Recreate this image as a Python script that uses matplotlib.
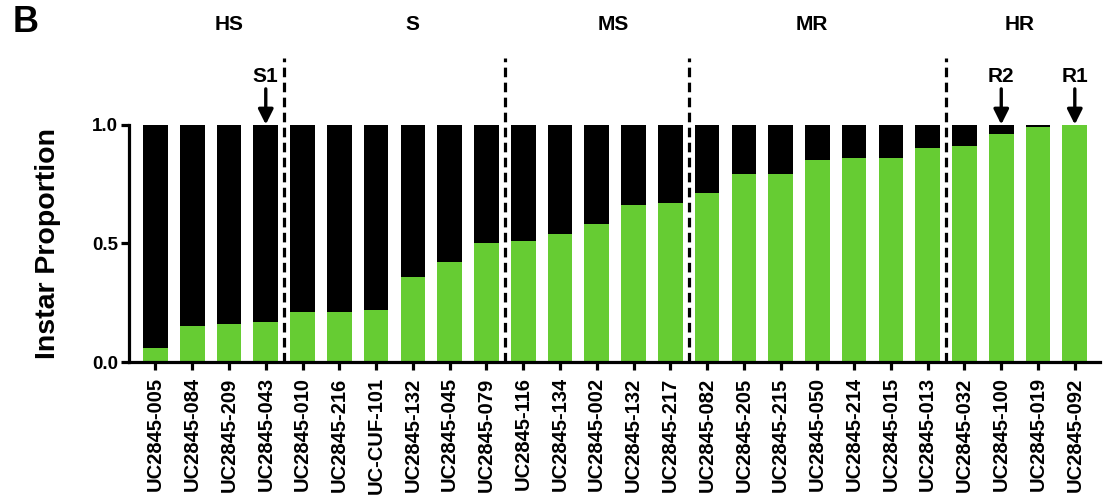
import matplotlib
matplotlib.use('Agg')
import matplotlib.pyplot as plt
import numpy as np

plt.rcParams['font.family'] = ['Liberation Sans', 'DejaVu Sans']
plt.rcParams['font.weight'] = 'bold'

# isolates ordered by proportion of the later instar
isolates = ['UC2845-005', 'UC2845-084', 'UC2845-209', 'UC2845-043',
            'UC2845-010', 'UC2845-216', 'UC-CUF-101', 'UC2845-132', 'UC2845-045', 'UC2845-079',
            'UC2845-116', 'UC2845-134', 'UC2845-002', 'UC2845-132', 'UC2845-217',
            'UC2845-082', 'UC2845-205', 'UC2845-215', 'UC2845-050', 'UC2845-214', 'UC2845-015', 'UC2845-013',
            'UC2845-032', 'UC2845-100', 'UC2845-019', 'UC2845-092']
green_prop = [0.06, 0.15, 0.16, 0.17,
              0.21, 0.21, 0.22, 0.36, 0.42, 0.50,
              0.51, 0.54, 0.58, 0.66, 0.67,
              0.71, 0.79, 0.79, 0.85, 0.86, 0.86, 0.90,
              0.91, 0.96, 0.99, 1.00]
black_prop = [1 - g for g in green_prop]

groups = ['HS', 'S', 'MS', 'MR', 'HR']
group_sizes = [4, 6, 5, 7, 4]
group_label_x = [2.0, 7.0, 12.45, 17.85, 23.5]

marked = {3: 'S1', 23: 'R2', 25: 'R1'}

fig = plt.figure(figsize=(11.07, 4.99), dpi=100)
ax = fig.add_axes([0.1165, 0.2745, 0.877, 0.476])

x = np.arange(len(isolates))
ax.bar(x, green_prop, width=0.67, color='#66cc33', edgecolor='none')
ax.bar(x, black_prop, width=0.67, bottom=green_prop, color='black', edgecolor='none')

ax.set_xlim(-0.72, len(isolates) - 1 + 0.68)
ax.set_ylim(0, 1.0)
ax.set_yticks([0.0, 0.5, 1.0])
ax.set_yticklabels(['0.0', '0.5', '1.0'], fontsize=13.5, fontweight='bold')
ax.set_xticks(x)
ax.set_xticklabels(isolates, rotation=90, fontsize=14.5, fontweight='bold')
ax.set_ylabel('Instar Proportion', fontsize=20.5, fontweight='bold', labelpad=22)

for side in ['top', 'right']:
    ax.spines[side].set_visible(False)
for side in ['left', 'bottom']:
    ax.spines[side].set_linewidth(2.3)
ax.tick_params(axis='both', width=2.3, length=6)
ax.tick_params(axis='x', pad=5)
ax.tick_params(axis='y', pad=2)

# dashed separators between resistance classes
bounds = np.cumsum(group_sizes)[:-1] - 0.5
for b in bounds:
    ax.plot([b, b], [0, 1.28], color='black', lw=2.3, ls=(0, (3, 1.7)),
            clip_on=False, zorder=5)

for name, gx in zip(groups, group_label_x):
    ax.text(gx, 1.42, name, ha='center', va='center', fontsize=15, fontweight='bold')

for i, lab in marked.items():
    top = green_prop[i] + black_prop[i]
    ax.annotate('', xy=(i, top), xytext=(i, top + 0.15),
                arrowprops=dict(arrowstyle='-|>,head_width=0.45,head_length=0.9',
                                color='black', lw=2.4, shrinkA=0, shrinkB=0),
                annotation_clip=False)
    ax.text(i, top + 0.2, lab, ha='center', va='center', fontsize=15, fontweight='bold')

fig.text(0.011, 0.955, 'B', fontsize=26, fontweight='bold', ha='left', va='center')

fig.savefig('out.png', dpi=100)
